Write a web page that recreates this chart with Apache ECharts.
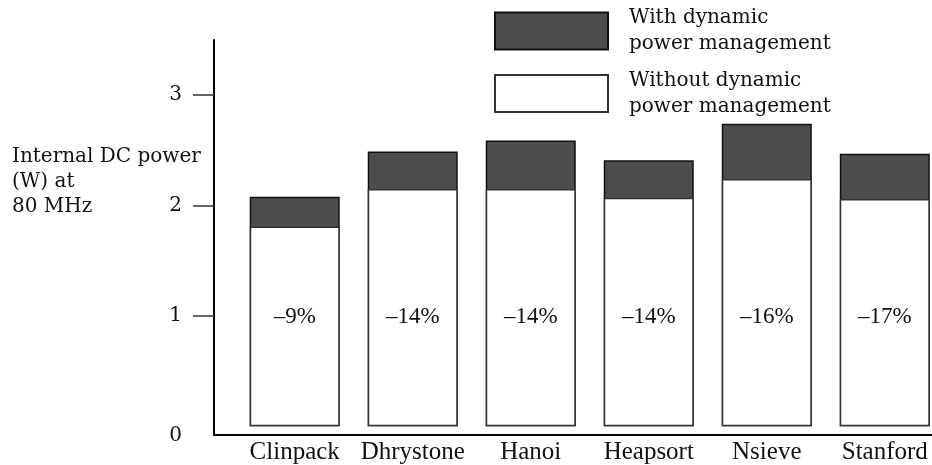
<!DOCTYPE html>
<html><head><meta charset="utf-8">
<script src="https://cdn.jsdelivr.net/npm/echarts@6/dist/echarts.min.js"></script>
<style>html,body{margin:0;padding:0;background:#fff}#c{width:932px;height:465px}</style>
</head><body><div id="c"></div>
<script>
// ---- data ----
const categories = ['Clinpack', 'Dhrystone', 'Hanoi', 'Heapsort', 'Nsieve', 'Stanford'];
const darkTopValues = [2.08, 2.49, 2.59, 2.41, 2.74, 2.47];   // top of dark segment (W)
const whiteTopValues = [1.81, 2.15, 2.15, 2.07, 2.24, 2.06];  // top of white segment (W)
const percentLabels = ['–9%', '–14%', '–14%', '–14%', '–16%', '–17%'];
const yTickValues = [0, 1, 2, 3];
const seriesNames = ['With dynamic\npower management', 'Without dynamic\npower management'];
const yTitle = 'Internal DC power\n(W) at\n80 MHz';

// ---- chart ----
const chart = echarts.init(document.getElementById('c'), null, {renderer: 'canvas'});
const serif = 'DejaVu Serif';
const times = 'Liberation Serif';
const catIdx = categories.map((c, i) => i);

chart.setOption({
  animation: false,
  backgroundColor: '#fff',
  title: {
    text: yTitle, left: 12, top: 144.5, padding: 0,
    textStyle: {fontFamily: serif, fontSize: 20, fontWeight: 'normal', color: '#111', lineHeight: 25}
  },
  legend: {
    orient: 'vertical', left: 494, top: 5, padding: 0, itemGap: 10.5,
    itemWidth: 113, itemHeight: 37, icon: 'rect', selectedMode: false,
    data: seriesNames,
    textStyle: {fontFamily: serif, fontSize: 20, lineHeight: 26, color: '#111', padding: [0, 0, 0, 16]}
  },
  grid: {left: 214, right: 0, top: 40, bottom: 27.5, containLabel: false},
  xAxis: {
    type: 'value', min: -0.684, max: 5.40,
    axisLine: {show: true, onZero: false, lineStyle: {color: '#000', width: 2}},
    axisTick: {show: false},
    splitLine: {show: false},
    axisLabel: {
      customValues: catIdx,
      formatter: v => categories[Math.round(v)],
      fontFamily: times, fontSize: 25, color: '#111', margin: 5
    }
  },
  yAxis: {
    type: 'value', min: -0.08, max: 3.5,
    axisLine: {show: true, onZero: false, lineStyle: {color: '#000', width: 2}},
    axisTick: {show: true, customValues: yTickValues.filter(v => v > 0), length: 21, lineStyle: {color: '#333', width: 1.5}},
    splitLine: {show: false},
    axisLabel: {
      customValues: yTickValues,
      formatter: v => v === 0 ? '{z|' + v + '}' : String(v),
      rich: {z: {fontFamily: serif, fontSize: 20, color: '#111', padding: [19, 0, 0, 0]}},
      fontFamily: serif, fontSize: 20, color: '#111', margin: 32
    }
  },
  series: [
    {
      name: seriesNames[0], type: 'bar', barWidth: 90, barGap: '-100%',
      data: catIdx.map(i => [i, darkTopValues[i]]),
      itemStyle: {color: '#4d4d4d', borderColor: '#111', borderWidth: 1.5}
    },
    {
      name: seriesNames[1], type: 'bar', barWidth: 90, barGap: '-100%',
      data: catIdx.map(i => [i, whiteTopValues[i]]),
      itemStyle: {color: '#fff', borderColor: '#333', borderWidth: 1.5},
      label: {
        show: true, position: 'insideBottom', distance: 98,
        formatter: p => percentLabels[p.dataIndex],
        fontFamily: times, fontSize: 23, lineHeight: 23, color: '#111'
      }
    }
  ]
});
</script></body></html>
